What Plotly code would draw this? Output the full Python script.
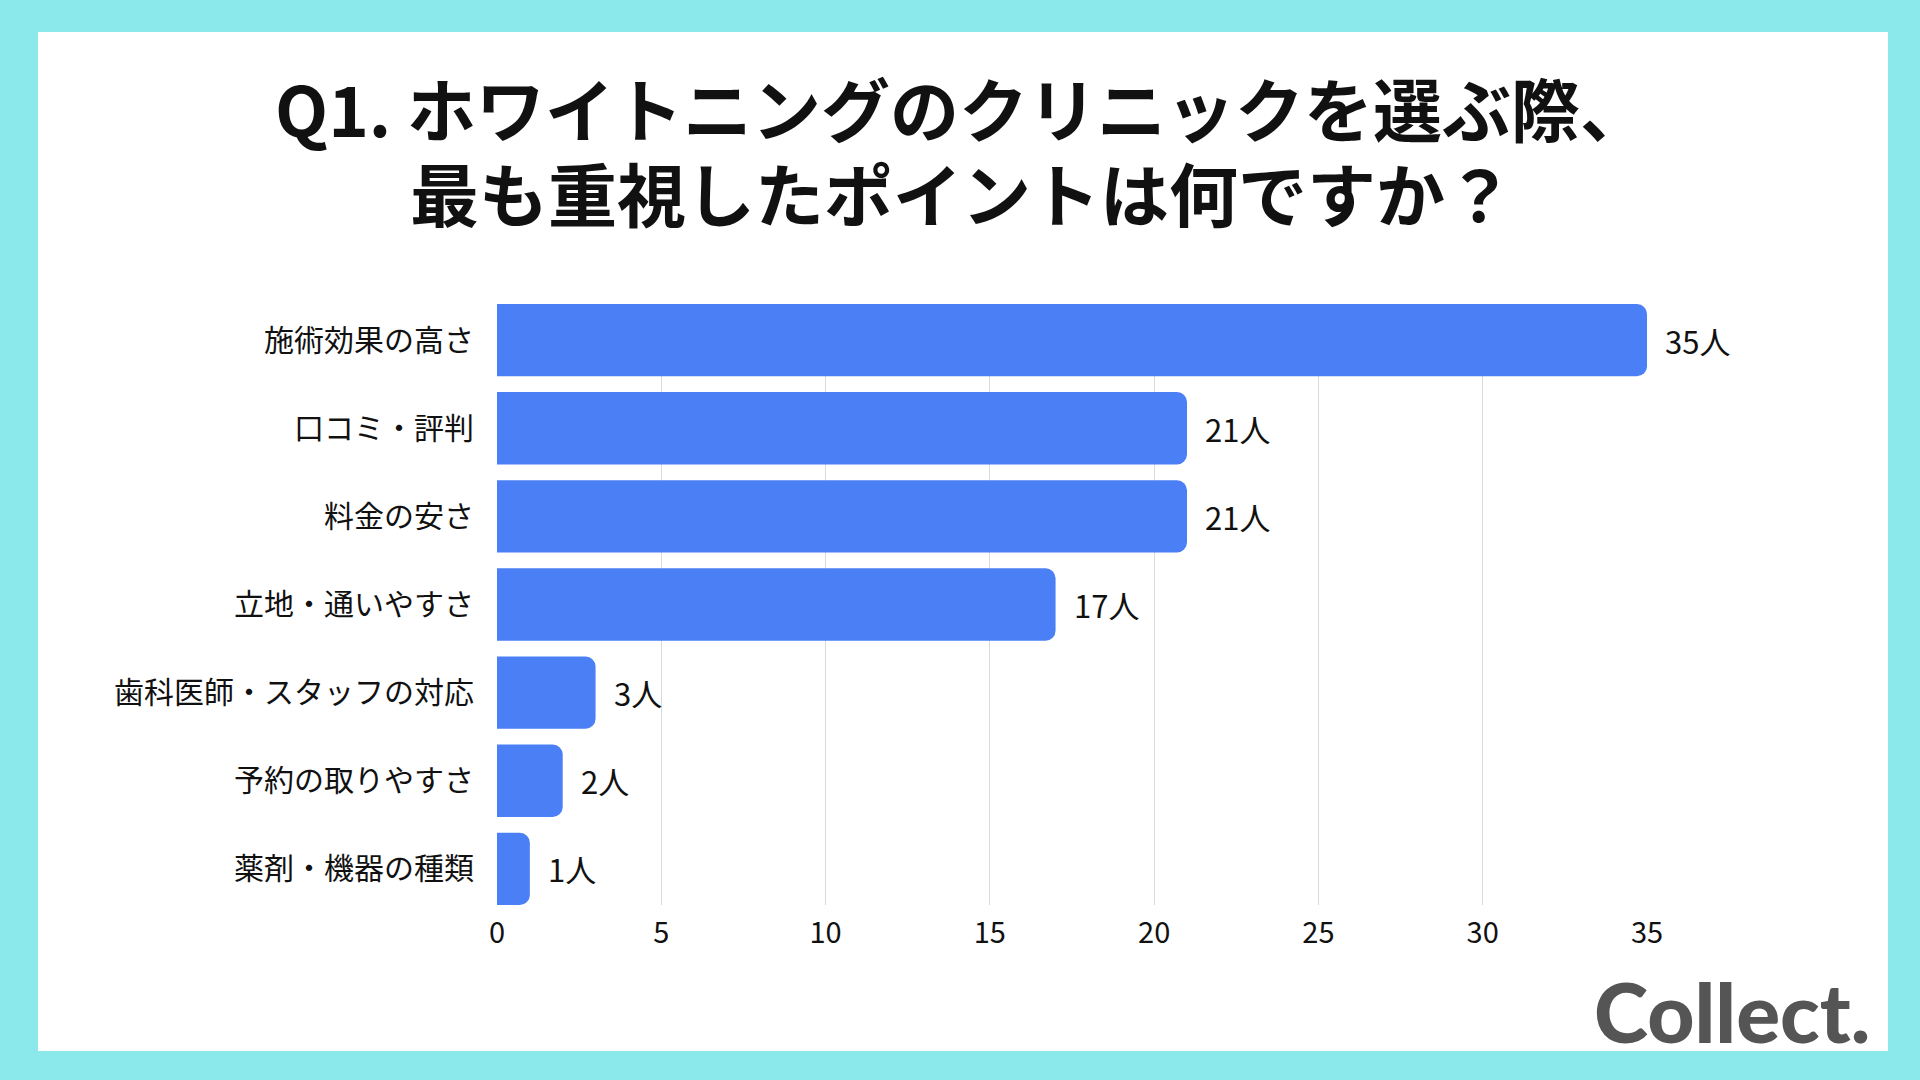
import plotly.graph_objects as go

# ---- data ----
categories = ["施術効果の高さ", "口コミ・評判", "料金の安さ", "立地・通いやすさ",
              "歯科医師・スタッフの対応", "予約の取りやすさ", "薬剤・機器の種類"]
counts = [35, 21, 21, 17, 3, 2, 1]
tick_vals = [0, 5, 10, 15, 20, 25, 30, 35]
unit = "人"
title_lines = ["Q1. ホワイトニングのクリニックを選ぶ際、", "最も重視したポイントは何ですか？"]
logo_text = "Collect."

# ---- layout geometry (pixels) ----
W, H = 1920, 1080
L, R, T, B = 497, 1647, 304, 905
FONT = "Noto Sans CJK JP"
BAR = "#4A7FF5"
CYAN = "#8BE9EC"


def px(x):
    return (x - L) / (R - L)


def py(y):
    return (B - y) / (B - T)


fig = go.Figure()
fig.add_trace(go.Bar(
    x=counts, y=categories, orientation="h",
    marker=dict(color=BAR, line=dict(width=0), cornerradius=10),
    width=0.82, hoverinfo="skip",
))

annotations = []
for c, cat in zip(counts, categories):
    annotations.append(dict(
        x=c, y=cat, xref="x", yref="y", text=f"{c}{unit}", showarrow=False,
        xanchor="left", yanchor="middle", xshift=16,
        font=dict(family=FONT, size=31, color="#111111"),
    ))

for line, yy in zip(title_lines, [107, 192]):
    annotations.append(dict(
        x=px(962), y=py(yy), xref="paper", yref="paper", text=f"<b>{line}</b>",
        showarrow=False, xanchor="center", yanchor="middle",
        font=dict(family=FONT, size=69, color="#111111"),
    ))

annotations.append(dict(
    x=px(1872), y=py(1011), xref="paper", yref="paper", text=logo_text,
    showarrow=False, xanchor="right", yanchor="middle",
    font=dict(family="Lato", size=82, color="#555555", weight=900),
))

fig.update_layout(
    width=W, height=H,
    margin=dict(l=L, r=W - R, t=T, b=H - B, pad=0),
    paper_bgcolor=CYAN, plot_bgcolor="rgba(0,0,0,0)",
    showlegend=False,
    annotations=annotations,
    shapes=[dict(type="rect", xref="paper", yref="paper", layer="below",
                 x0=px(38), x1=px(1888), y0=py(1051), y1=py(32),
                 fillcolor="white", line=dict(width=0))],
    xaxis=dict(range=[0, 35], tickvals=tick_vals, showgrid=True,
               gridcolor="#DADADA", gridwidth=1, zeroline=False,
               showline=False, ticks="", ticklabelstandoff=8,
               tickfont=dict(family=FONT, size=29, color="#111111"),
               fixedrange=True),
    yaxis=dict(type="category", categoryorder="array", categoryarray=categories,
               range=[6.41, -0.41], showgrid=False, zeroline=False, showline=False,
               ticks="", ticklabelstandoff=22,
               tickfont=dict(family=FONT, size=30, color="#111111"),
               fixedrange=True),
    bargap=0.18,
)

fig.write_html("out.html", config={"displayModeBar": False})
